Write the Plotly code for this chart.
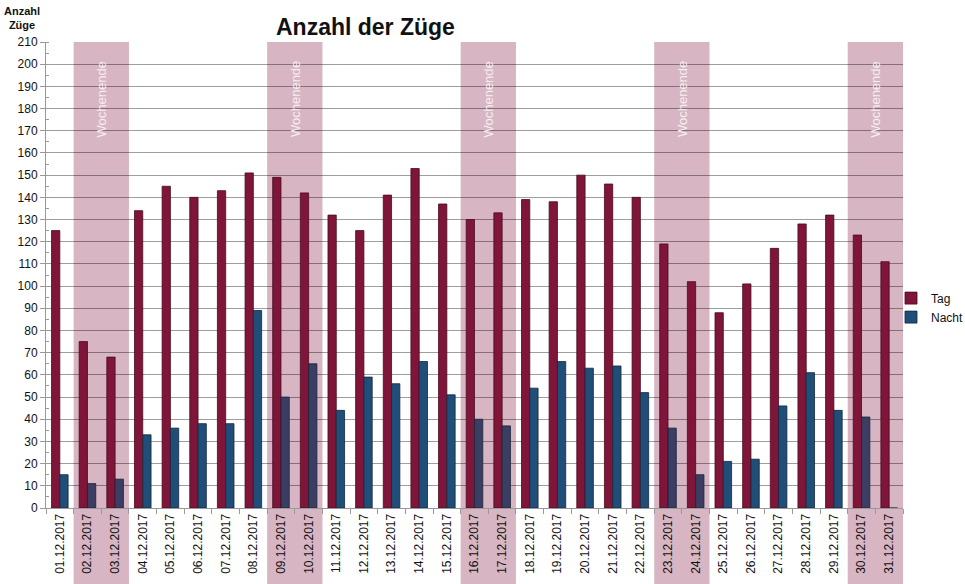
import plotly.graph_objects as go

dates = ["01.12.2017", "02.12.2017", "03.12.2017", "04.12.2017", "05.12.2017", "06.12.2017",
         "07.12.2017", "08.12.2017", "09.12.2017", "10.12.2017", "11.12.2017", "12.12.2017",
         "13.12.2017", "14.12.2017", "15.12.2017", "16.12.2017", "17.12.2017", "18.12.2017",
         "19.12.2017", "20.12.2017", "21.12.2017", "22.12.2017", "23.12.2017", "24.12.2017",
         "25.12.2017", "26.12.2017", "27.12.2017", "28.12.2017", "29.12.2017", "30.12.2017",
         "31.12.2017"]
tag = [125, 75, 68, 134, 145, 140, 143, 151, 149, 142, 132, 125, 141, 153, 137, 130, 133,
       139, 138, 150, 146, 140, 119, 102, 88, 101, 117, 128, 132, 123, 111]
nacht = [15, 11, 13, 33, 36, 38, 38, 89, 50, 65, 44, 59, 56, 66, 51, 40, 37,
         54, 66, 63, 64, 52, 36, 15, 21, 22, 46, 61, 44, 41, 0]
weekends = [("02.12.2017", "03.12.2017"), ("09.12.2017", "10.12.2017"),
            ("16.12.2017", "17.12.2017"), ("23.12.2017", "24.12.2017"),
            ("30.12.2017", "31.12.2017")]
y_ticks = list(range(0, 211, 10))

FONT = "Liberation Sans, Arial, sans-serif"
TAG_C = "#7f1538"
NACHT_C = "#1f4e79"
NACHT_WE = "#3b3d63"
SHADE = "#d8b5c2"

W, H = 965, 584
ML, MR, MT, MB = 46, 8, 42, 76
PLOT_RIGHT = 903
PW = W - ML - MR
dom_end = (PLOT_RIGHT - ML) / PW

weekend_days = set(d for pair in weekends for d in pair)
nacht_colors = [NACHT_WE if d in weekend_days else NACHT_C for d in dates]

fig = go.Figure()
fig.add_trace(go.Bar(name="Tag", x=dates, y=tag,
                     marker=dict(color=TAG_C, line=dict(color="#4a0a1e", width=0.8))))
fig.add_trace(go.Bar(name="Nacht", x=dates, y=nacht,
                     marker=dict(color=nacht_colors, line=dict(color="#16263a", width=0.8))))

shapes = []
annotations = []
for a, b in weekends:
    i0 = dates.index(a)
    i1 = dates.index(b)
    shapes.append(dict(type="rect", xref="x", yref="paper", x0=i0 - 0.5, x1=i1 + 0.5,
                       y0=-0.2, y1=1, fillcolor=SHADE, line=dict(width=0), layer="below"))
    annotations.append(dict(xref="x", yref="paper", x=(i0 + i1) / 2, y=0.963, text="Wochenende",
                            textangle=-90, showarrow=False, yanchor="top", xanchor="center",
                            font=dict(family=FONT, size=13, color="#f6eef1")))

annotations.append(dict(xref="paper", yref="paper", x=(365 - ML) / PW, y=1.0,
                        yanchor="bottom", xanchor="center",
                        text="<b>Anzahl der Züge</b>", showarrow=False, yshift=0,
                        font=dict(family=FONT, size=23, color="#111111")))
annotations.append(dict(xref="paper", yref="paper", x=(22 - ML) / PW, y=1.0,
                        yanchor="bottom", xanchor="center",
                        text="<b>Anzahl<br>Züge</b>", showarrow=False, yshift=9,
                        font=dict(family=FONT, size=11, color="#111111")))

fig.update_layout(
    width=W, height=H,
    margin=dict(l=ML, r=MR, t=MT, b=MB, autoexpand=False),
    paper_bgcolor="white", plot_bgcolor="white",
    barmode="group", bargap=0.4, bargroupgap=0.0,
    shapes=shapes, annotations=annotations,
    font=dict(family=FONT, size=12, color="#111111"),
    showlegend=True,
    legend=dict(x=(891 - ML) / PW, xanchor="left", y=0.43, yanchor="middle",
                font=dict(family=FONT, size=12, color="#111111"),
                itemwidth=30, tracegroupgap=0, bgcolor="rgba(0,0,0,0)"),
    xaxis=dict(type="category", domain=[0, dom_end], tickangle=-90, showgrid=False, showline=True,
               linecolor="#999999", linewidth=1, ticks="outside", tickson="boundaries",
               ticklen=5, tickcolor="#999999", automargin=False,
               tickfont=dict(family=FONT, size=12, color="#111111"),
               range=[-0.5, len(dates) - 0.5]),
    yaxis=dict(range=[0, 210], tickvals=y_ticks, ticktext=[str(v) for v in y_ticks],
               showgrid=True, gridcolor="rgba(0,0,0,0.38)", gridwidth=1, automargin=False,
               showline=True, linecolor="#999999", linewidth=1, ticks="outside", ticklen=5,
               tickcolor="#999999", zeroline=False,
               minor=dict(dtick=5, ticks="inside", ticklen=3, tickcolor="#999999", showgrid=False),
               tickfont=dict(family=FONT, size=12, color="#111111")),
)

fig.write_html("out.html", config={"displayModeBar": False},
               post_script="document.body.style.margin='0px';")
